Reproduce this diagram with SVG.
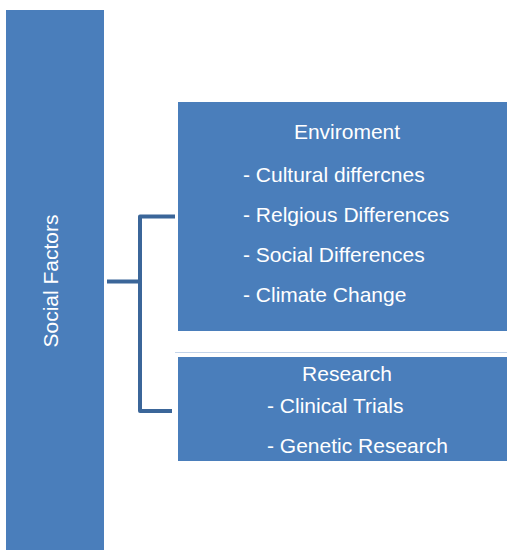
<svg xmlns="http://www.w3.org/2000/svg" width="507" height="550" viewBox="0 0 507 550">
  <style>
    .box { fill: #4A7EBB; }
    .lbl { font-family: "Liberation Sans", Arial, sans-serif; font-size: 21px; fill: #FFFFFF; }
    .mid { text-anchor: middle; }
    .link { fill: none; stroke: #3B6699; stroke-width: 4; stroke-linejoin: round; stroke-linecap: butt; }
  </style>
  <rect width="507" height="550" fill="#FFFFFF"/>

  <g id="social-factors">
    <rect class="box" x="6" y="10" width="98" height="540"/>
    <text class="lbl mid" transform="translate(58,281) rotate(-90)">Social Factors</text>
  </g>

  <g id="environment">
    <rect class="box" x="178" y="102" width="329" height="229"/>
    <text class="lbl mid" x="347" y="139">Enviroment</text>
    <text class="lbl" x="243" y="182">- Cultural differcnes</text>
    <text class="lbl" x="243" y="222">- Relgious Differences</text>
    <text class="lbl" x="243" y="262">- Social Differences</text>
    <text class="lbl" x="243" y="302">- Climate Change</text>
  </g>

  <g id="research">
    <rect class="box" x="178" y="357" width="329" height="104"/>
    <text class="lbl mid" x="347" y="381">Research</text>
    <text class="lbl" x="267" y="413">- Clinical Trials</text>
    <text class="lbl" x="267" y="453">- Genetic Research</text>
  </g>

  <g id="connectors">
    <path class="link" d="M107,281.5 H140"/>
    <path class="link" d="M175,216.5 H140 V411 H172"/>
    <line x1="175" y1="352.5" x2="507" y2="352.5" stroke="#C3D4EA" stroke-width="1"/>
  </g>
</svg>
